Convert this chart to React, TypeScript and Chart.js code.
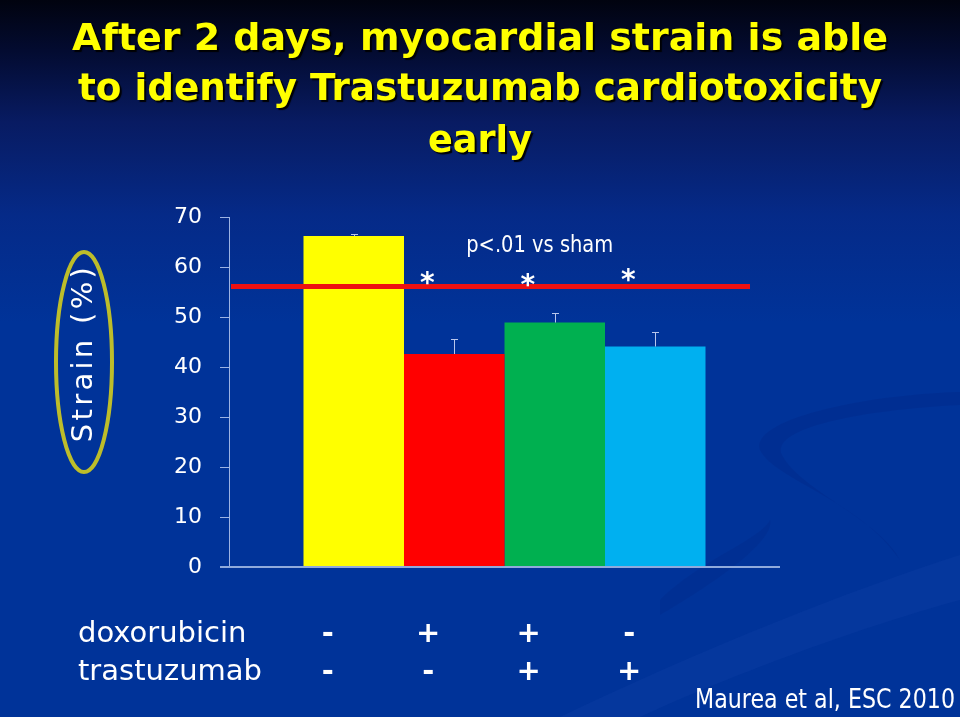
import React, { useEffect, useRef } from 'react';
import { Chart, registerables } from 'chart.js';

Chart.register(...registerables);

const titleLines = [
  'After 2 days, myocardial strain is able',
  'to identify Trastuzumab cardiotoxicity',
  'early',
];
const groups = ['sham', 'doxorubicin', 'trastuzumab', 'doxorubicin + trastuzumab'];
const strainMeans = [66.2, 42.6, 48.9, 44.1];
const strainErrors = [0.5, 3.0, 2.0, 3.0];
const barColors = ['#FFFF00', '#FF0000', '#00B050', '#00B0F0'];
const yMin = 0;
const yMax = 70;
const yStep = 10;
const referenceLevel = 56.1;
const significant = [false, true, true, true];
const asteriskLevels = [0, 58.3, 57.9, 58.9];
const pLabel = 'p<.01 vs sham';
const pLabelLevel = 63;
const yAxisTitle = 'Strain (%)';
const rowLabels = ['doxorubicin', 'trastuzumab'];
const doxorubicinRow = ['-', '+', '+', '-'];
const trastuzumabRow = ['-', '-', '+', '+'];
const citation = 'Maurea et al, ESC 2010';

const AXIS_COLOR = '#9DB3E3';
const FONT = '"DejaVu Sans", Verdana, sans-serif';

const slidePlugin = {
  id: 'slide',
  beforeDraw(chart: any) {
    const { ctx, width, height } = chart;
    ctx.save();
    const g = ctx.createLinearGradient(0, 0, 0, height);
    g.addColorStop(0, '#01030f');
    g.addColorStop(0.07, '#030b30');
    g.addColorStop(0.17, '#081b62');
    g.addColorStop(0.3, '#052a88');
    g.addColorStop(0.45, '#003399');
    g.addColorStop(1, '#003399');
    ctx.fillStyle = g;
    ctx.fillRect(0, 0, width, height);

    // subtle swooshes bottom-right
    ctx.fillStyle = 'rgba(0, 25, 110, 0.16)';
    ctx.beginPath();
    ctx.moveTo(960, 392);
    ctx.bezierCurveTo(860, 395, 750, 420, 760, 450);
    ctx.bezierCurveTo(775, 480, 860, 500, 900, 560);
    ctx.bezierCurveTo(880, 520, 800, 490, 782, 455);
    ctx.bezierCurveTo(770, 428, 860, 410, 960, 405);
    ctx.closePath();
    ctx.fill();

    ctx.fillStyle = 'rgba(60, 100, 200, 0.09)';
    ctx.beginPath();
    ctx.moveTo(560, 717);
    ctx.bezierCurveTo(700, 650, 850, 590, 960, 555);
    ctx.lineTo(960, 600);
    ctx.bezierCurveTo(850, 630, 720, 680, 640, 717);
    ctx.closePath();
    ctx.fill();

    ctx.fillStyle = 'rgba(0, 25, 110, 0.12)';
    ctx.beginPath();
    ctx.moveTo(660, 600);
    ctx.bezierCurveTo(700, 560, 760, 540, 770, 520);
    ctx.bezierCurveTo(775, 540, 720, 580, 660, 615);
    ctx.closePath();
    ctx.fill();
    ctx.restore();
  },
  afterDatasetsDraw(chart: any) {
    const { ctx, chartArea, scales } = chart;
    const yScale = scales.y;
    ctx.save();

    // x axis line
    ctx.strokeStyle = '#8FAADC';
    ctx.lineWidth = 2;
    ctx.beginPath();
    ctx.moveTo(chartArea.left - 9, chartArea.bottom);
    ctx.lineTo(chartArea.right, chartArea.bottom);
    ctx.stroke();

    const centers: number[] = [];
    const tops: number[] = [];
    groups.forEach((_, i) => {
      const bar = chart.getDatasetMeta(i).data[0];
      centers.push(bar.x);
      tops.push(bar.y);
    });

    // error bars
    ctx.strokeStyle = '#B8C6EC';
    ctx.lineWidth = 1;
    strainMeans.forEach((m, i) => {
      const yTop = Math.round(yScale.getPixelForValue(m + strainErrors[i])) + 0.5;
      const x = Math.round(centers[i]) + 0.5;
      ctx.beginPath();
      ctx.moveTo(x, tops[i]);
      ctx.lineTo(x, yTop);
      ctx.moveTo(x - 3.5, yTop);
      ctx.lineTo(x + 3.5, yTop);
      ctx.stroke();
    });

    // reference (red) line
    const ry = yScale.getPixelForValue(referenceLevel);
    ctx.strokeStyle = '#EE1111';
    ctx.lineWidth = 5;
    ctx.beginPath();
    ctx.moveTo(chartArea.left + 2, ry);
    ctx.lineTo(chartArea.right - 30, ry);
    ctx.stroke();

    // asterisks
    ctx.fillStyle = '#FFFFFF';
    ctx.font = `bold 28px ${FONT}`;
    ctx.textAlign = 'center';
    ctx.textBaseline = 'alphabetic';
    significant.forEach((s, i) => {
      if (!s) return;
      const y = yScale.getPixelForValue(asteriskLevels[i]) + 16;
      ctx.fillText('*', centers[i] - 27, y);
    });

    // p label
    ctx.font = `23px ${FONT}`;
    const px = (centers[1] + centers[3]) / 2 - 15;
    ctx.fillText(pLabel, px, yScale.getPixelForValue(pLabelLevel), 147);

    // treatment table
    const rows = [doxorubicinRow, trastuzumabRow];
    const baselines = [chartArea.bottom + 75, chartArea.bottom + 113];
    rows.forEach((row, r) => {
      ctx.font = `29px ${FONT}`;
      ctx.textAlign = 'left';
      ctx.fillText(rowLabels[r], 78, baselines[r]);
      ctx.font = `bold 29px ${FONT}`;
      ctx.textAlign = 'center';
      row.forEach((sign, i) => {
        ctx.fillText(sign, centers[i] - 26, baselines[r]);
      });
    });
    ctx.restore();
  },
  afterDraw(chart: any) {
    const { ctx, width, chartArea } = chart;
    ctx.save();

    // title
    ctx.font = `bold 38px ${FONT}`;
    ctx.textAlign = 'center';
    ctx.textBaseline = 'alphabetic';
    ctx.fillStyle = '#FFFF00';
    ctx.shadowColor = 'rgba(0,0,0,0.95)';
    ctx.shadowOffsetX = 2;
    ctx.shadowOffsetY = 2;
    ctx.shadowBlur = 1;
    const baselines = [50, 100, 152];
    const widths = [816, 804, 104];
    titleLines.forEach((line, i) => {
      ctx.fillText(line, width / 2, baselines[i], widths[i]);
    });
    ctx.shadowColor = 'transparent';
    ctx.shadowOffsetX = 0;
    ctx.shadowOffsetY = 0;
    ctx.shadowBlur = 0;

    // y-axis title with ellipse
    const cy = (chartArea.top + chartArea.bottom) / 2 - 30;
    ctx.strokeStyle = '#BDBD2A';
    ctx.lineWidth = 4;
    ctx.beginPath();
    ctx.ellipse(84, cy, 28, 110, 0, 0, Math.PI * 2);
    ctx.stroke();

    ctx.save();
    ctx.translate(92, cy - 9);
    ctx.rotate(-Math.PI / 2);
    ctx.fillStyle = '#FFFFFF';
    ctx.font = `29px ${FONT}`;
    (ctx as any).letterSpacing = '3.3px';
    ctx.textAlign = 'center';
    ctx.fillText(yAxisTitle, 0, 0);
    ctx.restore();

    // citation
    ctx.fillStyle = '#FFFFFF';
    ctx.font = `26px ${FONT}`;
    ctx.textAlign = 'left';
    ctx.fillText(citation, 695, 708, 260);
    ctx.restore();
  },
};

export default function App() {
  const canvasRef = useRef<HTMLCanvasElement | null>(null);

  useEffect(() => {
    document.body.style.margin = '0';
    const canvas = canvasRef.current;
    if (!canvas) return;
    const chart = new Chart(canvas, {
      type: 'bar',
      data: {
        labels: [''],
        datasets: groups.map((g, i) => ({
          label: g,
          data: [strainMeans[i]],
          backgroundColor: barColors[i],
          borderWidth: 0,
          categoryPercentage: 0.7296,
          barPercentage: 1,
        })),
      },
      options: {
        animation: false,
        responsive: true,
        maintainAspectRatio: false,
        layout: { padding: { left: 0, right: 180, top: 217, bottom: 150 } },
        plugins: {
          legend: { display: false },
          tooltip: { enabled: false },
          title: { display: false },
        },
        scales: {
          x: { display: false, stacked: false },
          y: {
            min: yMin,
            max: yMax,
            ticks: {
              stepSize: yStep,
              color: '#FFFFFF',
              font: { family: 'DejaVu Sans', size: 22 },
              padding: 18,
            },
            grid: {
              drawOnChartArea: false,
              drawTicks: true,
              tickLength: 9,
              color: AXIS_COLOR,
              lineWidth: 1,
            },
            border: { display: true, color: AXIS_COLOR, width: 1 },
            afterFit: (scale: any) => {
              scale.width = 229;
            },
          },
        },
      },
      plugins: [slidePlugin],
    });
    return () => chart.destroy();
  }, []);

  return (
    <div style={{ width: 960, height: 717, position: 'relative' }}>
      <canvas ref={canvasRef} />
    </div>
  );
}
